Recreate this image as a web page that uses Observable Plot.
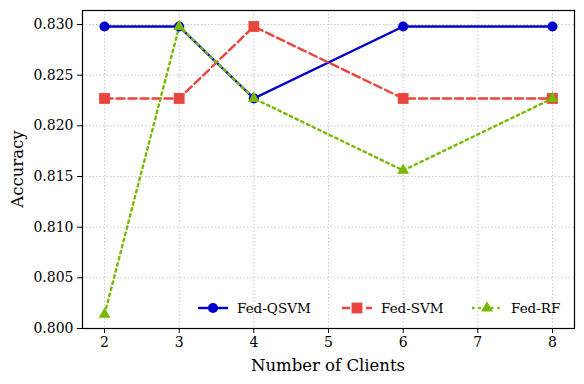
<!DOCTYPE html>
<html>
<head>
<meta charset="utf-8">
<script src="https://cdn.jsdelivr.net/npm/d3@7"></script>
<script src="https://cdn.jsdelivr.net/npm/@observablehq/plot@0.6"></script>
<style>
body { margin: 0; background: #fff; }
#chart svg, #chart svg text { font-family: 'DejaVu Serif', serif; }
</style>
</head>
<body>
<div id="chart"></div>
<script>
const clients = [2, 3, 4, 6, 8];
const fedQSVM = [0.8298, 0.8298, 0.8227, 0.8298, 0.8298];
const fedSVM = [0.8227, 0.8227, 0.8298, 0.8227, 0.8227];
const fedRF = [0.8014, 0.8298, 0.8227, 0.8156, 0.8227];
const seriesNames = ["Fed-QSVM", "Fed-SVM", "Fed-RF"];
const xTicks = [2, 3, 4, 5, 6, 7, 8];
const yTicks = [0.800, 0.805, 0.810, 0.815, 0.820, 0.825, 0.830];

const FONT = "'DejaVu Serif', serif";
const styles = {
  "Fed-QSVM": {color: "#0000CC", dash: null, symbol: "circle", r: 5.1},
  "Fed-SVM": {color: "#E8453C", dash: "8,4", symbol: "square", r: 6.1},
  "Fed-RF": {color: "#76B900", dash: "2.5,3.8", symbol: "triangle", r: 4.4}
};
const valuesBySeries = {"Fed-QSVM": fedQSVM, "Fed-SVM": fedSVM, "Fed-RF": fedRF};
const data = seriesNames.flatMap(s => clients.map((c, i) => ({series: s, x: c, y: valuesBySeries[s][i]})));

const marks = [
  Plot.gridX(xTicks, {stroke: "#bbb", strokeOpacity: 1, strokeWidth: 0.8, strokeDasharray: "1.5,2"}),
  Plot.gridY(yTicks, {stroke: "#bbb", strokeOpacity: 1, strokeWidth: 0.8, strokeDasharray: "1.5,2"}),
];
for (const s of seriesNames) {
  const st = styles[s];
  const d = data.filter(p => p.series === s);
  marks.push(Plot.line(d, {x: "x", y: "y", stroke: st.color, strokeWidth: 2.4, strokeDasharray: st.dash}));
}
for (const s of seriesNames) {
  const st = styles[s];
  const d = data.filter(p => p.series === s);
  marks.push(Plot.dot(d, {x: "x", y: "y", fill: st.color, stroke: "none", symbol: st.symbol, r: st.r}));
}
marks.push(Plot.frame({stroke: "#000", strokeWidth: 1.2}));
marks.push(Plot.axisX(xTicks, {tickSize: 5, tickFormat: d => String(d), fontSize: 14, fontFamily: FONT, label: null, tickPadding: 4}));
marks.push(Plot.axisY(yTicks, {tickSize: 5, tickFormat: d3.format(".3f"), fontSize: 14, fontFamily: FONT, label: null, tickPadding: 4}));

const plot = Plot.plot({
  width: 584,
  height: 384,
  marginLeft: 82,
  marginRight: 10,
  marginTop: 10,
  marginBottom: 56,
  style: {fontFamily: FONT, fontSize: "14px", color: "#000", background: "#fff"},
  x: {domain: [1.705, 8.295]},
  y: {domain: [0.8, 0.83138]},
  marks
});
document.getElementById("chart").appendChild(plot);

const svg = d3.select(plot);
svg.append("text").attr("x", 328).attr("y", 371).attr("text-anchor", "middle").attr("font-family", FONT)
  .attr("font-size", 16.5).attr("fill", "#000").text("Number of Clients");
svg.append("text").attr("transform", "translate(23,169) rotate(-90)").attr("text-anchor", "middle").attr("font-family", FONT)
  .attr("font-size", 16.5).attr("fill", "#000").text("Accuracy");

// legend
const legendX = [198, 342, 472];
const ly = 308;
const sym = {circle: d3.symbolCircle, square: d3.symbolSquare, triangle: d3.symbolTriangle};
seriesNames.forEach((s, i) => {
  const st = styles[s];
  const x0 = legendX[i];
  svg.append("line").attr("x1", x0).attr("x2", x0 + 30).attr("y1", ly).attr("y2", ly)
    .attr("stroke", st.color).attr("stroke-width", 2.4).attr("stroke-dasharray", st.dash);
  svg.append("path").attr("d", d3.symbol(sym[st.symbol], Math.PI * st.r * st.r)())
    .attr("transform", `translate(${x0 + 15},${ly})`).attr("fill", st.color);
  svg.append("text").attr("x", x0 + 39).attr("y", ly + 5).attr("text-anchor", "start").attr("font-family", FONT)
    .attr("font-size", 13.5).attr("fill", "#000").text(s);
});
</script>
</body>
</html>
